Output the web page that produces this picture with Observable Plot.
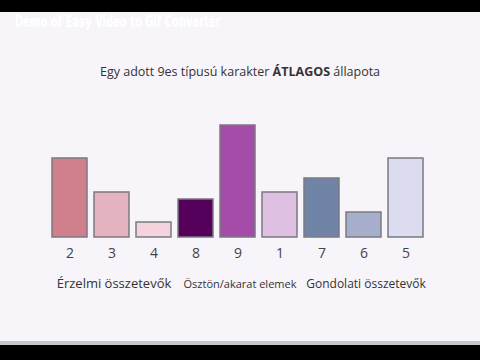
<!DOCTYPE html>
<html><head><meta charset="utf-8">
<script src="https://cdn.jsdelivr.net/npm/d3@7"></script>
<script src="https://cdn.jsdelivr.net/npm/@observablehq/plot@0.6"></script>
<style>
html,body{margin:0;padding:0;width:480px;height:360px;background:#000;overflow:hidden;}
#bg{position:absolute;left:0;top:12px;width:480px;height:329px;background:#f8f5fa;border-bottom:4px solid #c8c6cc;}
#wm{position:absolute;left:15px;top:13px;color:#fff;font-family:"DejaVu Sans Condensed";font-weight:bold;font-size:15px;white-space:nowrap;transform-origin:0 0;transform:scaleX(0.74);}
#title{position:absolute;left:0;width:480px;top:63px;text-align:center;font-family:"Open Sans";font-size:12.5px;color:#333;}
#chart{position:absolute;left:0;top:0;}
</style></head>
<body>
<div id="bg"></div>
<div id="wm">Demo of Easy Video to Gif Converter</div>
<div id="title">Egy adott 9es típusú karakter <b>ÁTLAGOS</b> állapota</div>
<div id="chart"></div>
<script>
const categories = ["2","3","4","8","9","1","7","6","5"];
const values = [79, 45, 15, 38, 112, 45, 59, 25, 79];
const colors = ["#d0808c","#e5b3c0","#f3d4de","#55005a","#a44ca8","#dfc0e2","#7084a8","#a7aecb","#dcdcf0"];
const groupLabels = ["Érzelmi összetevők","Ösztön/akarat elemek","Gondolati összetevők"];
const groupCenters = ["3","9","6"];
const groupSizes = [13, 11, 12];

const data = categories.map((c,i)=>({cat:c, v:values[i], color:colors[i]}));
const groups = groupLabels.map((g,i)=>({label:g, cat:groupCenters[i], size:groupSizes[i]}));

const chart = Plot.plot({
  width: 480, height: 360,
  marginLeft: 44, marginRight: 49, marginTop: 125, marginBottom: 123,
  style:{background:"transparent", fontFamily:"Open Sans"},
  x:{domain:categories, padding:0.17, label:null},
  y:{domain:[0,112], axis:null},
  marks:[
    Plot.barY(data,{x:"cat", y:"v", fill:"color", stroke:"#7a7a80", strokeWidth:1.5}),
    Plot.axisX({tickSize:0, tickPadding:11, fontSize:14, color:"#444", label:null}),
    Plot.text(groups,{x:"cat", text:"label", frameAnchor:"bottom", dy:50, dx:2, fontSize:d=>d.size, fill:"#333"})
  ]
});
document.getElementById("chart").appendChild(chart);
</script>
</body></html>
